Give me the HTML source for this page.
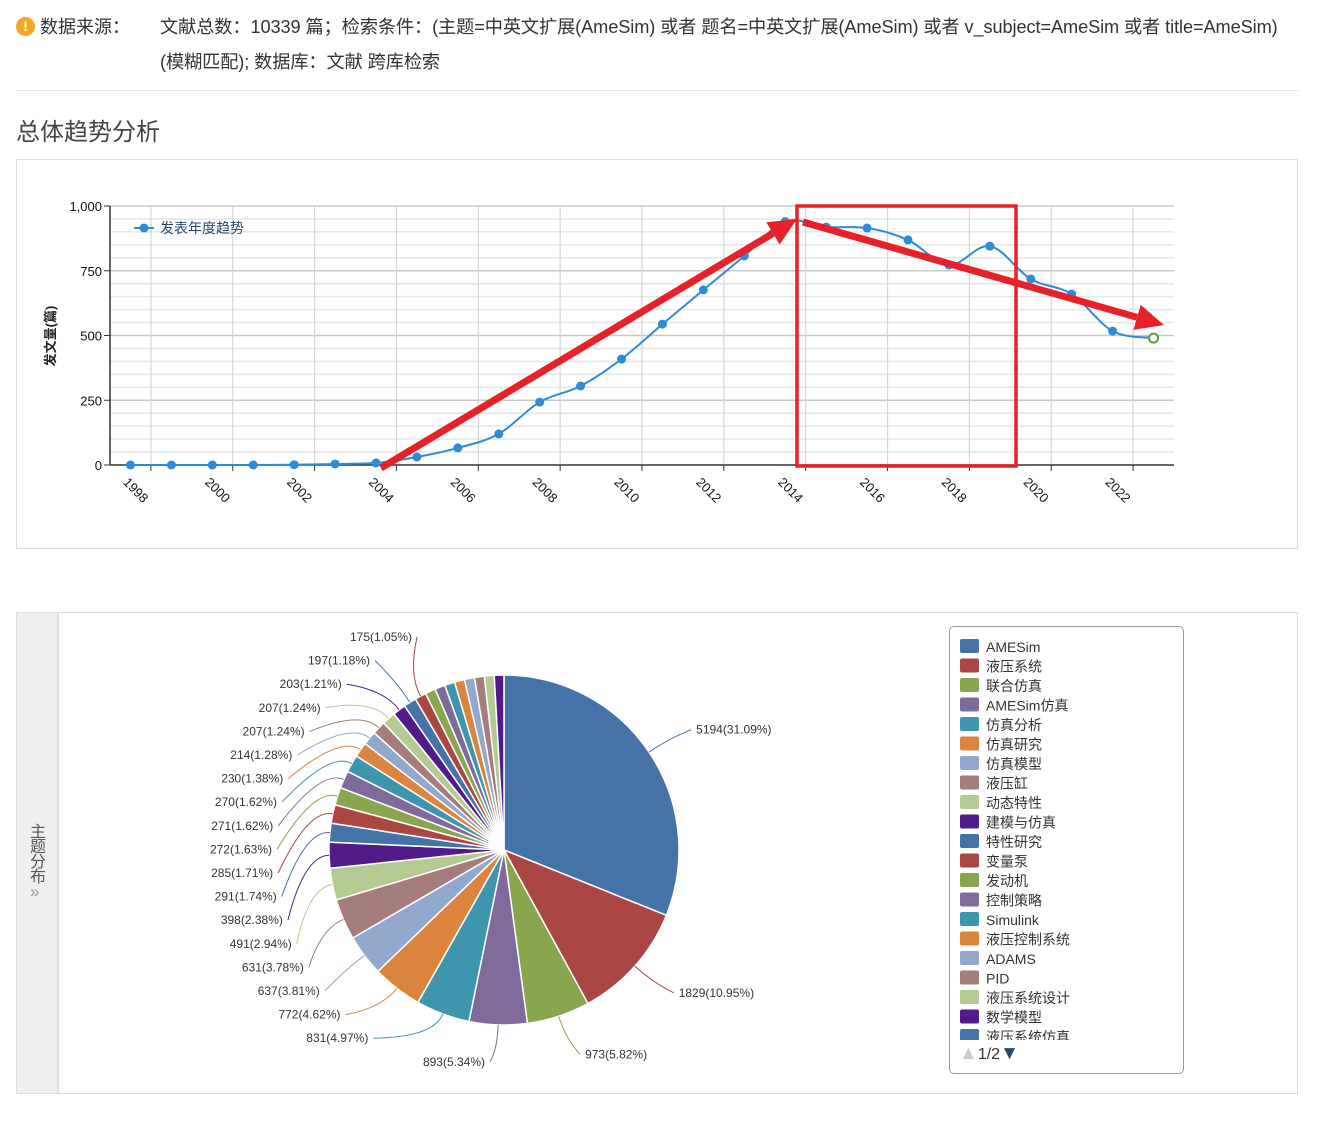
<!DOCTYPE html>
<html><head><meta charset="utf-8">
<style>
body{margin:0;width:1325px;height:1140px;background:#fff;font-family:"Liberation Sans","Noto Sans CJK SC",sans-serif;color:#333;position:relative;overflow:hidden}
.abs{position:absolute}
</style></head><body>
<div class="abs" style="left:16px;top:17px;width:19px;height:19px;border-radius:50%;background:#f5a623;color:#fff;font-size:14px;font-weight:bold;text-align:center;line-height:19px">!</div>
<div class="abs" style="left:40px;top:13px;font-size:18px;color:#333">数据来源：</div>
<div class="abs" style="left:160px;top:10px;width:1150px;font-size:18.2px;line-height:35px;color:#333;letter-spacing:-0.1px">文献总数：10339 篇；检索条件：(主题=中英文扩展(AmeSim) 或者 题名=中英文扩展(AmeSim) 或者 v_subject=AmeSim 或者 title=AmeSim)<br>(模糊匹配); 数据库：文献 跨库检索</div>
<div class="abs" style="left:16px;top:90px;width:1282px;height:1px;background:#e8e8e8"></div>
<div class="abs" style="left:16px;top:112px;font-size:24px;color:#444">总体趋势分析</div>
<div class="abs" style="left:16px;top:159px;width:1280px;height:388px;border:1px solid #ddd"></div>
<svg class="abs" style="left:0;top:0" width="1325" height="560" id="line"></svg>

<div class="abs" style="left:16px;top:612px;width:1280px;height:480px;border:1px solid #ddd"></div>
<div class="abs" style="left:17px;top:613px;width:40px;height:480px;background:#efefef;border-right:2px solid #e2e2e2"></div>
<div class="abs" style="left:30px;top:825px;width:16px;font-size:16px;line-height:15px;color:#555">主题分布</div>
<div class="abs" style="left:30px;top:882px;font-size:17px;color:#999">»</div>
<svg class="abs" style="left:0;top:0" width="1325" height="1140" id="pie"></svg>
<div class="abs" style="left:949px;top:626px;width:233px;height:446px;border:1px solid #999;border-radius:5px"></div>

<script>
const NS='http://www.w3.org/2000/svg';
function mk(p,t,a){const e=document.createElementNS(NS,t);for(const k in a)e.setAttribute(k,a[k]);p.appendChild(e);return e;}
// ---- line chart data
const years=[1998,1999,2000,2001,2002,2003,2004,2005,2006,2007,2008,2009,2010,2011,2012,2013,2014,2015,2016,2017,2018,2019,2020,2021,2022,2023];
const counts=[0,0,0,0,1,4,8,31,66,120,243,305,409,544,676,807,940,919,915,869,772,845,718,660,517,490];
const yTicks=[0,250,500,750,1000];
const yTickLabels=['0','250','500','750','1,000'];
const L=document.getElementById('line');
const x0=110,x1=1174,yb=465,yt=206;
const bw=(x1-x0)/years.length;
const X=i=>x0+(i+0.5)*bw;
const Y=v=>yb-(v/1000)*(yb-yt);
for(let v=50;v<=1000;v+=50){const l=mk(L,'line',{x1:x0,x2:x1,y1:Y(v),y2:Y(v),stroke:v%250==0?'#c8c8c8':'#e6e6e6','stroke-width':1.5});
}
for(let i=1;i<years.length;i+=2){const xx=x0+i*bw;const l=mk(L,'line',{x1:xx,x2:xx,y1:yt,y2:yb,stroke:'#d6d6d6','stroke-width':1.2});

const tk=mk(L,'line',{x1:xx,x2:xx,y1:yb,y2:yb+6,stroke:'#333'});}
mk(L,'line',{x1:x0,x2:x0,y1:yt,y2:yb,stroke:'#333','stroke-width':1.5});
mk(L,'line',{x1:x0,x2:x1,y1:yb,y2:yb,stroke:'#333','stroke-width':1.5});
yTicks.forEach((v,i)=>{mk(L,'line',{x1:x0-6,x2:x0,y1:Y(v),y2:Y(v),stroke:'#333'});
const t=mk(L,'text',{x:x0-8,y:Y(v)+5,'text-anchor':'end','font-size':13,fill:'#111'});t.textContent=yTickLabels[i];
});
years.forEach((y,i)=>{if(y%2)return;const t=mk(L,'text',{x:X(i)-8,y:yb+18,'font-size':13,fill:'#111',transform:`rotate(45 ${X(i)-8} ${yb+18})`});t.textContent=y;
});
const yl=mk(L,'text',{x:55,y:336,'text-anchor':'middle','font-size':13,'font-weight':'bold',fill:'#222',transform:'rotate(-90 55 336)'});yl.textContent='发文量(篇)';

const pts=counts.map((v,i)=>[X(i),Y(v)]);
let d=`M${pts[0][0]},${pts[0][1]}`;
for(let i=0;i<pts.length-1;i++){const p0=pts[Math.max(0,i-1)],p1=pts[i],p2=pts[i+1],p3=pts[Math.min(pts.length-1,i+2)];
d+=` C${p1[0]+(p2[0]-p0[0])/6},${p1[1]+(p2[1]-p0[1])/6} ${p2[0]-(p3[0]-p1[0])/6},${p2[1]-(p3[1]-p1[1])/6} ${p2[0]},${p2[1]}`;}
const ln=mk(L,'path',{d,fill:'none',stroke:'#2f8ad8','stroke-width':2});
pts.forEach((p,i)=>{const last=i==pts.length-1;const c=mk(L,'circle',{cx:p[0],cy:p[1],r:4.5,fill:last?'#fff':'#2f8ad8',stroke:last?'#5aa02c':'none','stroke-width':2});
});
mk(L,'line',{x1:134,x2:154,y1:228,y2:228,stroke:'#2f8ad8','stroke-width':2});
mk(L,'circle',{cx:144,cy:228,r:4.5,fill:'#2f8ad8'});
const lt=mk(L,'text',{x:160,y:233,'font-size':14,fill:'#274b6d'});lt.textContent='发表年度趋势';

const red='#e8202a';
const rc=mk(L,'rect',{x:797,y:206,width:219,height:260,fill:'none',stroke:red,'stroke-width':3.5});
function arrow(ax,ay,bx,by,name){const g=mk(L,'g',{});
const ang=Math.atan2(by-ay,bx-ax),hl=28,hw=13;const ex=bx-hl*Math.cos(ang),ey=by-hl*Math.sin(ang);
mk(g,'line',{x1:ax,y1:ay,x2:ex,y2:ey,stroke:red,'stroke-width':7});
mk(g,'polygon',{points:`${bx},${by} ${ex-hw*Math.sin(ang)},${ey+hw*Math.cos(ang)} ${ex+hw*Math.sin(ang)},${ey-hw*Math.cos(ang)}`,fill:red});}
arrow(381,468,797,219,'rise-arrow');arrow(803,222,1164,325,'decline-arrow');

// ---- pie data
const topics=['AMESim','液压系统','联合仿真','AMESim仿真','仿真分析','仿真研究','仿真模型','液压缸','动态特性','建模与仿真','特性研究','变量泵','发动机','控制策略','Simulink','液压控制系统','ADAMS','PID','液压系统设计','数学模型','液压系统仿真','其他1','其他2','其他3','其他4','其他5','其他6','其他7','其他8','其他9'];
const values=[5194,1829,973,893,831,772,637,631,491,398,291,285,272,271,270,230,214,207,207,203,197,175,160,158,156,155,154,152,151,149];
const pctLabels=['31.09','10.95','5.82','5.34','4.97','4.62','3.81','3.78','2.94','2.38','1.74','1.71','1.63','1.62','1.62','1.38','1.28','1.24','1.24','1.21','1.18','1.05'];
const colors=['#4572A7','#AA4643','#89A54E','#80699B','#3D96AE','#DB843D','#92A8CD','#A47D7C','#B5CA92','#521B8A'];
const P=document.getElementById('pie');
const cx=504,cy=850,R=175;
const total=values.reduce((s,v)=>s+v,0);
let a=0;const mids=[];
values.forEach((v,i)=>{const a0=a,a1=a+v/total*2*Math.PI;a=a1;mids.push((a0+a1)/2);
const p0=[cx+R*Math.sin(a0),cy-R*Math.cos(a0)],p1=[cx+R*Math.sin(a1),cy-R*Math.cos(a1)];
const s=mk(P,'path',{d:`M${cx},${cy} L${p0[0]},${p0[1]} A${R},${R} 0 ${a1-a0>Math.PI?1:0} 1 ${p1[0]},${p1[1]} Z`,fill:colors[i%10],stroke:'#fff','stroke-width':1.5});
});
function lab(i,lx,ly,anchor){const m=mids[i],col=colors[i%10];
const sx=cx+R*Math.sin(m),sy=cy-R*Math.cos(m);const ex=anchor=='end'?lx+5:lx-5;
const c=mk(P,'path',{d:`M${sx},${sy} Q${cx+(R+25)*Math.sin(m)},${cy-(R+25)*Math.cos(m)} ${ex},${ly-4}`,fill:'none',stroke:col,'stroke-width':1});

const t=mk(P,'text',{x:lx,y:ly,'text-anchor':anchor,'font-size':12,fill:'#333'});t.textContent=`${values[i]}(${pctLabels[i]}%)`;
}
for(let i=0;i<3;i++){const m=mids[i],r=R+40;lab(i,cx+r*Math.sin(m)+14,cy-r*Math.cos(m)+4,'start');}
for(let i=3;i<=21;i++){const k=21-i;const ly=641+k*23.6;const dy=ly-4-cy;const Rl=232;
let lx=cx-Math.sqrt(Math.max(0,Rl*Rl-dy*dy));if(i==3)lx=485;lab(i,lx,ly,'end');}
for(let i=0;i<21;i++){const y=639+i*19.5;
const r=mk(P,'rect',{x:960,y:y,width:19,height:14,rx:2,fill:colors[i%10]});
const t=mk(P,'text',{x:986,y:y+13,'font-size':14,fill:'#333'});t.textContent=topics[i];}
</script>
<div class="abs" style="left:955px;top:1040px;width:200px;height:8px;background:#fff"></div>
<div class="abs" style="left:959px;top:1043px;font-size:16px;color:#333"><span style="color:#ccc;font-size:19px">▲</span>1/2<span style="color:#274b6d;font-size:19px">▼</span></div>
</body></html>
